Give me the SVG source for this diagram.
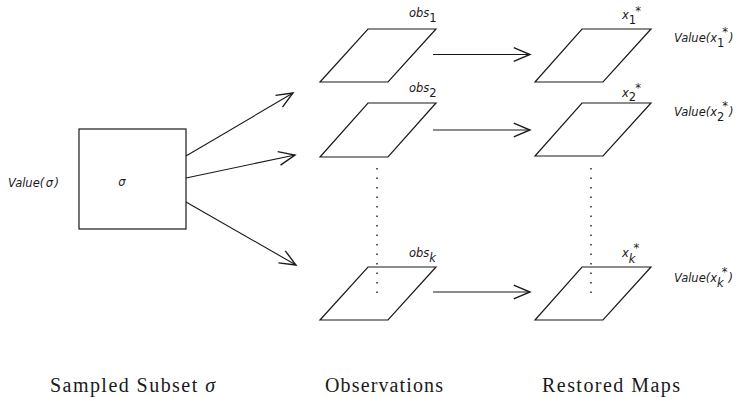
<svg xmlns="http://www.w3.org/2000/svg" width="739" height="397" viewBox="0 0 739 397">
<style>
.sh{fill:none;stroke:#1a1a1a;stroke-width:1.2}
.ln{fill:none;stroke:#1a1a1a;stroke-width:1.1}
.dot{fill:none;stroke:#1a1a1a;stroke-width:1.4;stroke-dasharray:1.4 8.1}
.lb{font-family:"DejaVu Sans","Liberation Sans",sans-serif;font-size:11.5px;font-style:italic;fill:#1a1a1a}
.up{font-style:normal}
.ti{font-family:"Liberation Serif","DejaVu Serif",serif;font-size:20px;fill:#1a1a1a}
</style>
<defs>
<marker id="ah" markerUnits="userSpaceOnUse" markerWidth="20" markerHeight="20" refX="0" refY="0" viewBox="-14 -8 16 16" orient="auto">
<path d="M-13,-5.5 L0,0 L-13,5.5" fill="none" stroke="#1a1a1a" stroke-width="1.1"/>
</marker>
</defs>
<rect width="739" height="397" fill="#fff"/>
<g id="subset">
<rect class="sh" x="79" y="129" width="107" height="100"/>
<text class="lb" x="122" y="186" text-anchor="middle">σ</text>
<text class="lb" x="8" y="187">Value(<tspan dx="1.5">σ</tspan><tspan dx="1.5">)</tspan></text>
</g>
<g id="obs1">
<polygon class="sh" points="368,29 436,29 388,82 320,82"/>
<text class="lb" x="409" y="17">obs<tspan class="up" dy="5">1</tspan></text>
</g>
<g id="obs2">
<polygon class="sh" points="368,103 436,103 388,157 320,157"/>
<text class="lb" x="409" y="92">obs<tspan class="up" dy="5">2</tspan></text>
</g>
<g id="obsk">
<polygon class="sh" points="368,267 436,267 388,320 320,320"/>
<text class="lb" x="409" y="257">obs<tspan dy="5">k</tspan></text>
</g>
<g id="x1">
<polygon class="sh" points="582,29 651,29 603,82 535,82"/>
<text class="lb" x="622" y="19">x<tspan class="up" dy="4.5">1</tspan><tspan class="up" dy="-9" dx="-1">*</tspan></text>
<text class="lb" x="674" y="41.5">Value(x<tspan class="up" dy="5">1</tspan><tspan class="up" dy="-11" dx="-2">*</tspan><tspan dx="1" dy="6">)</tspan></text>
</g>
<g id="x2">
<polygon class="sh" points="582,103 651,103 603,156 535,156"/>
<text class="lb" x="622" y="96.5">x<tspan class="up" dy="4.5">2</tspan><tspan class="up" dy="-9" dx="-1">*</tspan></text>
<text class="lb" x="674" y="116">Value(x<tspan class="up" dy="5">2</tspan><tspan class="up" dy="-11" dx="-2">*</tspan><tspan dx="1" dy="6">)</tspan></text>
</g>
<g id="xk">
<polygon class="sh" points="582,267 651,267 603,320 535,320"/>
<text class="lb" x="622" y="257">x<tspan dy="6">k</tspan><tspan class="up" dy="-11" dx="-2">*</tspan></text>
<text class="lb" x="674" y="282">Value(x<tspan dy="5">k</tspan><tspan class="up" dy="-11" dx="-2">*</tspan><tspan dx="1" dy="6">)</tspan></text>
</g>
<g id="connectors">
<line class="ln" x1="186" y1="156" x2="293" y2="93" marker-end="url(#ah)"/>
<line class="ln" x1="186" y1="178" x2="295" y2="155" marker-end="url(#ah)"/>
<line class="ln" x1="186" y1="202" x2="296" y2="265" marker-end="url(#ah)"/>
<line class="ln" x1="433" y1="54.5" x2="530" y2="54.5" marker-end="url(#ah)"/>
<line class="ln" x1="433" y1="130" x2="530" y2="130" marker-end="url(#ah)"/>
<line class="ln" x1="433" y1="292" x2="530" y2="292" marker-end="url(#ah)"/>
<line class="dot" x1="377" y1="168" x2="377" y2="293"/>
<line class="dot" x1="591" y1="168" x2="591" y2="293"/>
</g>
<g id="titles">
<text class="ti" x="50" y="391.5" textLength="165">Sampled Subset <tspan font-style="italic">σ</tspan></text>
<text class="ti" x="325" y="391.5" textLength="118">Observations</text>
<text class="ti" x="542" y="391.5" textLength="138">Restored Maps</text>
</g>
</svg>
